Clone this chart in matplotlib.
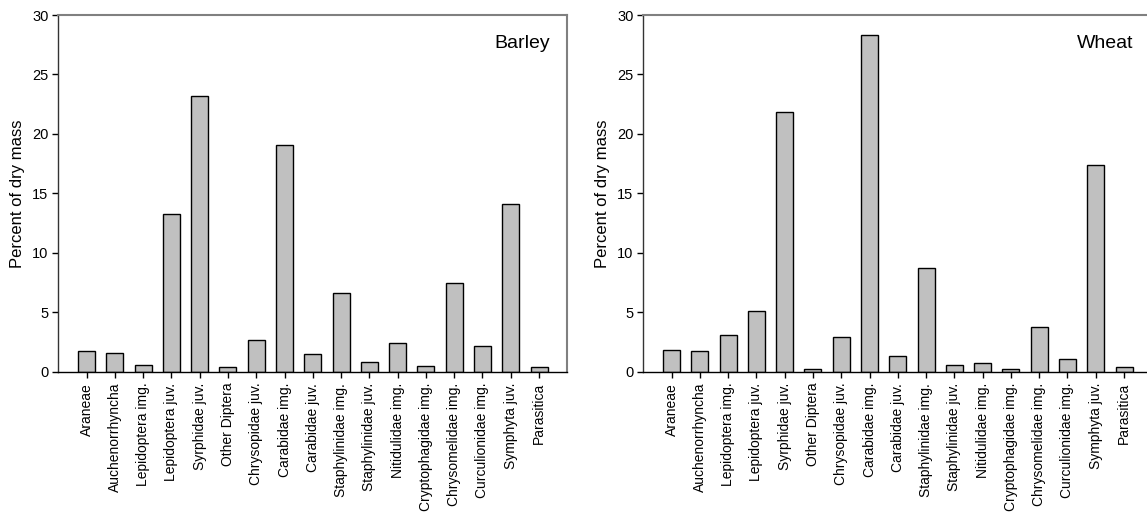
import numpy as np
import matplotlib
matplotlib.use("Agg")
import matplotlib.pyplot as plt

plt.rcParams['font.family'] = ['Liberation Sans', 'DejaVu Sans']

taxa = ["Araneae", "Auchenorrhyncha", "Lepidoptera img.", "Lepidoptera juv.",
        "Syrphidae juv.", "Other Diptera", "Chrysopidae juv.", "Carabidae img.",
        "Carabidae juv.", "Staphylinidae img.", "Staphylinidae juv.",
        "Nitidulidae img.", "Cryptophagidae img.", "Chrysomelidae img.",
        "Curculionidae img.", "Symphyta juv.", "Parasitica"]

barley = [1.7, 1.6, 0.6, 13.3, 23.2, 0.4, 2.7, 19.1, 1.5, 6.6, 0.8, 2.4, 0.5, 7.5, 2.2, 14.1, 0.4]
wheat = [1.8, 1.7, 3.1, 5.1, 21.8, 0.2, 2.9, 28.3, 1.3, 8.7, 0.6, 0.7, 0.2, 3.8, 1.1, 17.4, 0.4]

W, H = 1147, 517
fig = plt.figure(figsize=(W / 100, H / 100), dpi=100)

def panel(left, vals, name, name_x):
    ax = fig.add_axes([left / W, 1 - 371.7 / H, 509 / W, 356.7 / H])
    x = np.arange(len(vals))
    ax.bar(x, vals, width=0.6, color="#c0c0c0", edgecolor="black", linewidth=1.0)
    ax.set_xlim(-1, len(vals))
    ax.set_ylim(0, 30)
    ax.set_yticks([0, 5, 10, 15, 20, 25, 30])
    ax.set_xticks(x)
    ax.set_xticklabels(taxa, rotation=90, fontsize=10)
    ax.tick_params(axis="y", labelsize=10.5, length=4, width=1, direction="out", pad=3)
    ax.tick_params(axis="x", length=4, width=1, direction="out", pad=4)
    for s in ["top", "right"]:
        ax.spines[s].set_color("#808080")
        ax.spines[s].set_linewidth(1.5)
    ax.spines["left"].set_color("#333333")
    ax.spines["left"].set_linewidth(1.0)
    ax.spines["bottom"].set_linewidth(1.0)
    ax.set_ylabel("Percent of dry mass", fontsize=12, labelpad=5)
    ax.text(name_x, 0.9215, name, transform=ax.transAxes, ha="right", va="center", fontsize=14)
    return ax

ax1 = panel(58.3, barley, "Barley", 0.9666)
ax2 = panel(643.3, wheat, "Wheat", 0.9627)

fig.savefig("out.png", dpi=100)
